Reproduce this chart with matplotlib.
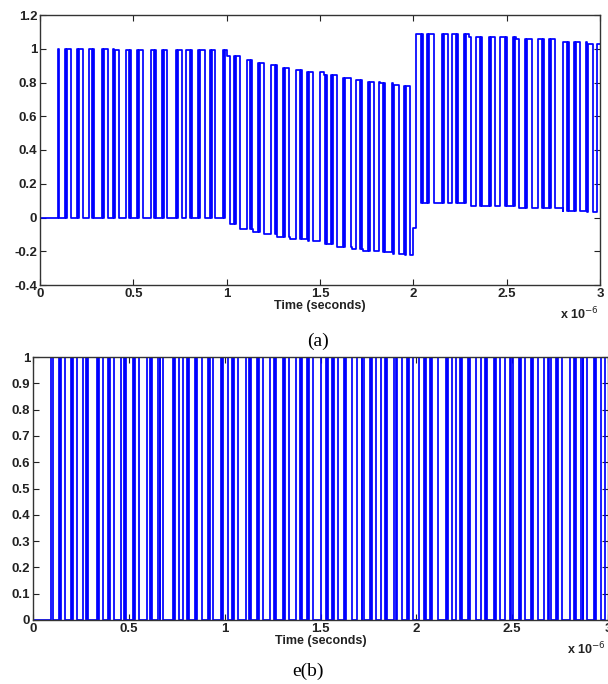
import numpy as np
import matplotlib.pyplot as plt

# pulse edges (time in units of 1e-6 s)
rise_a = [0.096, 0.134, 0.198, 0.262, 0.332, 0.391, 0.461, 0.520, 0.595, 0.654,
          0.729, 0.782, 0.846, 0.911, 0.980, 1.039, 1.109, 1.168, 1.237, 1.302,
          1.371, 1.430, 1.500, 1.559, 1.623, 1.693, 1.757, 1.816, 1.886, 1.950,
          2.014, 2.073, 2.154, 2.207, 2.271, 2.336, 2.405, 2.464, 2.534, 2.598,
          2.668, 2.727, 2.802, 2.861, 2.925, 2.984]
fall_a = [0.102, 0.166, 0.230, 0.289, 0.364, 0.423, 0.487, 0.552, 0.621, 0.680,
          0.761, 0.814, 0.884, 0.938, 1.018, 1.071, 1.136, 1.200, 1.270, 1.334,
          1.404, 1.463, 1.538, 1.591, 1.666, 1.725, 1.789, 1.848, 1.923, 1.982,
          2.052, 2.111, 2.186, 2.239, 2.309, 2.368, 2.438, 2.502, 2.566, 2.636,
          2.700, 2.759, 2.834, 2.893, 2.963, 3.000]
# short drops inside the pulses (they show as the thick dark edges)
notch_on = [0.140, 0.204, 0.279, 0.338, 0.397, 0.476, 0.526, 0.610, 0.660, 0.735,
            0.803, 0.852, 0.917, 0.986, 1.045, 1.125, 1.174, 1.259, 1.308, 1.393,
            1.436, 1.527, 1.565, 1.629, 1.714, 1.763, 1.837, 1.892, 1.956, 2.041,
            2.079, 2.160, 2.228, 2.277, 2.357, 2.411, 2.491, 2.540, 2.604, 2.689,
            2.733, 2.823, 2.867, 2.931]
notch_off = [0.145, 0.209, 0.284, 0.343, 0.402, 0.481, 0.531, 0.615, 0.665, 0.740,
             0.808, 0.857, 0.922, 0.991, 1.050, 1.130, 1.179, 1.264, 1.313, 1.398,
             1.441, 1.532, 1.570, 1.634, 1.719, 1.768, 1.842, 1.897, 1.961, 2.046,
             2.084, 2.165, 2.233, 2.282, 2.362, 2.416, 2.496, 2.545, 2.609, 2.694,
             2.738, 2.828, 2.872, 2.936]

# low level of panel (a), drifting in steps
base_t = [0.0, 0.40, 1.0, 1.07, 1.14, 1.20, 1.27, 1.34, 1.43, 1.52, 1.59, 1.67,
          1.73, 1.82, 1.89, 1.95, 1.998, 2.013, 2.30, 2.55, 2.80, 2.93]
base_v = [0.0, -0.005, -0.04, -0.068, -0.086, -0.098, -0.116, -0.127, -0.139,
          -0.157, -0.175, -0.187, -0.198, -0.204, -0.216, -0.222, -0.06, 0.086,
          0.068, 0.056, 0.039, 0.03]
amp_a = 1.0

# panel (b): clean 0/1 pulse train (same switching instants)
rise_b = rise_a
fall_b = fall_a
notch_on_b = notch_on
notch_off_b = notch_off


def pulse_state(t, rises, falls, n_on, n_off):
    s = np.zeros(len(t))
    for r, f in zip(rises, falls):
        s[(t >= r) & (t < f)] = 1
    for a, b in zip(n_on, n_off):
        s[(t >= a) & (t < b)] = 0
    return s


def step_signal(rises, falls, n_on, n_off, bt=None, bv=None, amp=1.0):
    pts = [0.0, 3.0] + list(rises) + list(falls) + list(n_on) + list(n_off)
    if bt is not None:
        pts += list(bt)
    t = np.unique(np.array(pts))
    s = pulse_state(t, rises, falls, n_on, n_off)
    if falls[-1] >= 3.0:
        s[-1] = 1
    if bt is not None:
        idx = np.searchsorted(bt, t, side='right') - 1
        b = np.array(bv)[idx]
    else:
        b = np.zeros(len(t))
    return t, b + amp * s


plt.rcParams['font.family'] = ['Liberation Sans', 'DejaVu Sans']
tick_font = dict(fontsize=9.5, fontweight='bold', color='#222222')

fig = plt.figure(figsize=(6.08, 6.84), dpi=100)

ax1 = fig.add_axes([40 / 608, 1 - 285 / 684, 560 / 608, 270 / 684])
ta, ya = step_signal(rise_a, fall_a, notch_on, notch_off, base_t, base_v, amp_a)
ax1.plot(ta, ya, color='#0000ff', lw=1.25, drawstyle='steps-post')
ax1.set_xlim(0, 3)
ax1.set_ylim(-0.4, 1.2)
ax1.set_xticks(np.arange(0, 3.01, 0.5))
ax1.set_xticklabels(['0', '0.5', '1', '1.5', '2', '2.5', '3'], **tick_font)
ax1.set_yticks(np.arange(-0.4, 1.21, 0.2))
ax1.set_yticklabels(['-0.4', '-0.2', '0', '0.2', '0.4', '0.6', '0.8', '1', '1.2'], **tick_font)
ax1.set_xlabel('Time (seconds)', fontsize=9, fontweight='bold', color='#222222', labelpad=0)
ax1.text(0.997, -0.075, r'x 10$^{-6}$', transform=ax1.transAxes, ha='right', va='top',
         fontsize=9, fontweight='bold', color='#222222')

ax2 = fig.add_axes([33 / 608, 1 - 620 / 684, 575 / 608, 263 / 684])
tb, yb = step_signal(rise_b, fall_b, notch_on_b, notch_off_b)
ax2.plot(tb, yb, color='#0000ff', lw=1.25, drawstyle='steps-post')
ax2.set_xlim(0, 3)
ax2.set_ylim(0, 1)
ax2.set_xticks(np.arange(0, 3.01, 0.5))
ax2.set_xticklabels(['0', '0.5', '1', '1.5', '2', '2.5', '3'], **tick_font)
ax2.set_yticks(np.arange(0, 1.01, 0.1))
ax2.set_yticklabels(['0', '0.1', '0.2', '0.3', '0.4', '0.5', '0.6', '0.7', '0.8', '0.9', '1'], **tick_font)
ax2.set_xlabel('Time (seconds)', fontsize=9, fontweight='bold', color='#222222', labelpad=0)
fig.text(0.997, 1 - 641 / 684, r'x 10$^{-6}$', ha='right', va='top',
         fontsize=9, fontweight='bold', color='#222222')

for ax in (ax1, ax2):
    ax.tick_params(direction='in', length=4, width=0.8, top=True, right=True, pad=2,
                   colors='#222222')
    for sp in ax.spines.values():
        sp.set_color('#333333')
        sp.set_linewidth(1.0)

fig.text(318 / 608, 1 - 341 / 684, '(a)', ha='center', va='center',
         fontsize=14, family='Liberation Serif')
fig.text(308 / 608, 1 - 671 / 684, 'e(b)', ha='center', va='center',
         fontsize=14, family='Liberation Serif')

fig.savefig('out.png', dpi=100)
